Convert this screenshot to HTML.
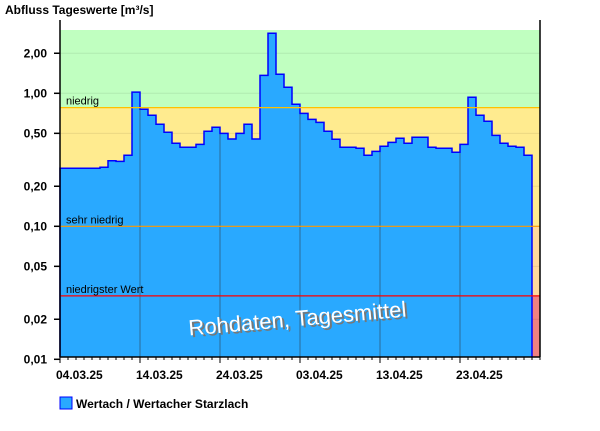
<!DOCTYPE html>
<html><head><meta charset="utf-8"><style>
body{margin:0;background:#fff;width:600px;height:426px;overflow:hidden}
text{font-family:"Liberation Sans",sans-serif}
</style></head><body>
<svg id="c" width="600" height="426" xmlns="http://www.w3.org/2000/svg">
<text x="5" y="14" font-size="12" font-weight="bold">Abfluss Tageswerte [m³/s]</text>
<g id="g"></g>
<rect x="60" y="397" width="12" height="12" fill="#29a9ff" stroke="#0000ff" stroke-width="1"/>
<text x="76" y="408" font-size="12" font-weight="bold">Wertach / Wertacher Starzlach</text>
</svg>
<script>
const values = [0.273,0.273,0.273,0.273,0.273,0.278,0.311,0.308,0.342,1.02,0.758,0.684,0.585,0.509,0.421,0.393,0.393,0.413,0.518,0.555,0.50,0.453,0.50,0.585,0.453,1.365,2.83,1.39,1.11,0.827,0.707,0.637,0.605,0.518,0.451,0.393,0.393,0.386,0.342,0.366,0.400,0.428,0.459,0.421,0.467,0.467,0.393,0.386,0.386,0.360,0.413,0.933,0.684,0.616,0.483,0.421,0.400,0.393,0.342];
const yTicks = [2,1,0.5,0.2,0.1,0.05,0.02,0.01];
const yTickLabels = ["2,00","1,00","0,50","0,20","0,10","0,05","0,02","0,01"];
const xLabels = ["04.03.25","14.03.25","24.03.25","03.04.25","13.04.25","23.04.25"];
const thresholds = [0.78,0.1,0.03];
const thresholdNames = ["niedrig","sehr niedrig","niedrigster Wert"];
const totalDays = 60;

const L=60,R=540,T=30,B=357;
const dayW=(R-L)/totalDays;
const y=v=>93.3-133*Math.log10(v);
const x=d=>L+d*dayW;
const NS="http://www.w3.org/2000/svg";
const g=document.getElementById('g');
function mk(t,a){const e=document.createElementNS(NS,t);for(const k in a)e.setAttribute(k,a[k]);g.appendChild(e);return e;}

// bands
const bandEdges=[T,y(thresholds[0]),y(thresholds[1]),y(thresholds[2]),B];
const bandCols=["#c0ffc0","#ffeb8f","#ffd89c","#f08080"];
const bandNames=["band-normal","band-low","band-very-low","band-lowest"];
for(let i=0;i<4;i++){
 const r=mk('rect',{x:L,y:bandEdges[i],width:R-L,height:bandEdges[i+1]-bandEdges[i],fill:bandCols[i]});
 
 
}
// faint h grid
yTicks.forEach(v=>{
 const l=mk('line',{x1:L,x2:R,y1:y(v),y2:y(v),stroke:"rgba(0,0,0,0.08)","stroke-width":1});
 
 
});
// area
let d=`M${x(0)},${B}`;
values.forEach((v,i)=>{d+=` L${x(i)},${y(v)} L${x(i+1)},${y(v)}`;});
d+=` L${x(values.length)},${B} Z`;
const cp=mk('clipPath',{id:'ac'});
const cpp=document.createElementNS(NS,'path');cpp.setAttribute('d',d);cp.appendChild(cpp);
const area=mk('path',{d:d,fill:"#29a9ff"});


// vertical gridlines inside area
for(let k=1;k<xLabels.length;k++){
 const l=mk('line',{x1:x(k*10),x2:x(k*10),y1:T,y2:B,stroke:"#2a6a9a","stroke-width":1,"clip-path":"url(#ac)"});
 
 
}
let s='';
values.forEach((v,i)=>{s+=(i?' L':'M')+`${x(i)},${y(v)} L${x(i+1)},${y(v)}`;});
s=`M${x(0)},${B} L`+s.slice(1)+` L${x(values.length)},${B}`;
const line=mk('path',{d:s,fill:"none",stroke:"#0000ff","stroke-width":1.5});


// thresholds
const thCols=["#ffc000","#ff9900","#ff0000"];
thresholds.forEach((v,i)=>{
 const l=mk('line',{x1:L,x2:R,y1:y(v),y2:y(v),stroke:thCols[i],"stroke-width":1.2});
 
 
 const t=mk('text',{x:66,y:y(v)-3,"font-size":11,fill:"#000"});
 t.textContent=thresholdNames[i];
 
 
});
// watermark
const wm=mk('g',{transform:"translate(298,326) rotate(-5)"});


const w1=document.createElementNS(NS,'text');
w1.setAttribute('x',2);w1.setAttribute('y',2);w1.setAttribute('text-anchor','middle');w1.setAttribute('font-size','22');w1.setAttribute('fill','#777');w1.textContent='Rohdaten, Tagesmittel';wm.appendChild(w1);
const w2=document.createElementNS(NS,'text');
w2.setAttribute('x',0);w2.setAttribute('y',0);w2.setAttribute('text-anchor','middle');w2.setAttribute('font-size','22');w2.setAttribute('fill','#fff');w2.textContent='Rohdaten, Tagesmittel';wm.appendChild(w2);
// axes
const ax=mk('path',{d:`M${L},${T-10} L${L},${B} L${R},${B} M${R},${T-10} L${R},${B}`,stroke:"#000","stroke-width":1.5,fill:"none"});


yTicks.forEach((v,i)=>{
 const tk=mk('line',{x1:L-6,x2:L,y1:y(v),y2:y(v),stroke:"#000","stroke-width":1.5});
 
 
 const t=mk('text',{x:47,y:y(v)+4,"font-size":12,"font-weight":"bold","text-anchor":"end"});
 t.textContent=yTickLabels[i];
 
 
});
for(let k=0;k<=totalDays;k++){
 const major=k%10===0&&k<60;
 const tk=mk('line',{x1:x(k),x2:x(k),y1:B,y2:B+(major?6:3),stroke:"#000","stroke-width":1});
 
 
}
xLabels.forEach((lb,i)=>{
 const t=mk('text',{x:x(i*10)-4,y:B+22,"font-size":12,"font-weight":"bold"});
 t.textContent=lb;
 
 
});
</script>
</body></html>
